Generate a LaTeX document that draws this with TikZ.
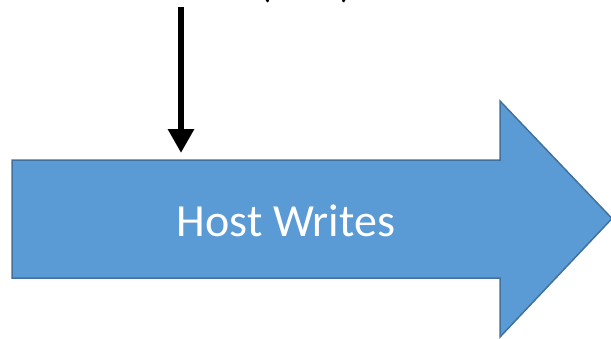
\documentclass[tikz,border=0pt]{standalone}
\usepackage{fontspec}
\setmainfont{Carlito}
\usetikzlibrary{arrows.meta}
\definecolor{bodyblue}{HTML}{5B9BD5}
\definecolor{edgeblue}{HTML}{41719C}
\tikzset{
  bigarrow/.style={fill=bodyblue, draw=edgeblue, line width=1.5pt, line join=miter},
  label/.style={font=\fontsize{46}{50}\selectfont, text=white, inner sep=0pt},
  toptext/.style={font=\fontsize{40}{44}\selectfont, inner sep=0pt, anchor=base},
  feed/.style={line width=6pt, -{Triangle[length=24pt,width=25pt]}}
}
\begin{document}
\begin{tikzpicture}[x=1pt,y=-1pt]
  \useasboundingbox (0,0) rectangle (611,338);
  \clip (0,0) rectangle (611,338);
  % block arrow
  \draw[bigarrow] (12,160) -- (500,160) -- (500,101) -- (612,218.5)
        -- (500,337) -- (500,278) -- (12,278) -- cycle;
  \node[label] (hw) at (286,221) {Host Writes};
  % caption above, mostly outside the frame
  \node[toptext] (lp) at (266,-3) {(};
  \node[toptext] (rp) at (347,-3) {)};
  % incoming arrow
  \coordinate (src) at (181,7);
  \coordinate (dst) at (181,153);
  \draw[feed] (src) -- (dst);
\end{tikzpicture}
\end{document}
